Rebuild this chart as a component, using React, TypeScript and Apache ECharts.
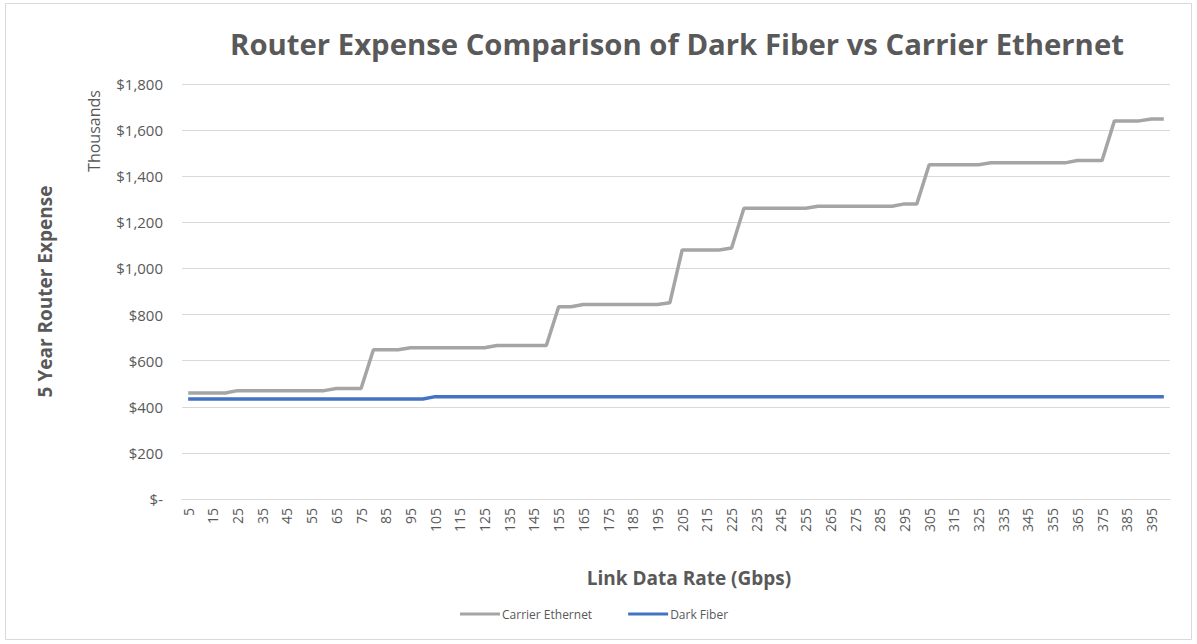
import React, { useEffect, useRef } from "react";
import * as echarts from "echarts";

const categories: string[] = [];
for (let r = 5; r <= 400; r += 5) categories.push(String(r));

const carrierEthernet = [
  460, 460, 460, 460,
  470, 470, 470, 470, 470, 470, 470, 470,
  479, 479, 479,
  647, 647, 647,
  656, 656, 656, 656, 656, 656, 656,
  666, 666, 666, 666, 666,
  834, 834,
  844, 844, 844, 844, 844, 844, 844,
  851,
  1080, 1080, 1080, 1080,
  1089,
  1261, 1261, 1261, 1261, 1261, 1261,
  1270, 1270, 1270, 1270, 1270, 1270, 1270,
  1280, 1280,
  1450, 1450, 1450, 1450, 1450,
  1458, 1458, 1458, 1458, 1458, 1458, 1458,
  1468, 1468, 1468,
  1640, 1640, 1640,
  1648, 1648,
];

const darkFiber = [
  434, 434, 434, 434, 434, 434, 434, 434, 434, 434,
  434, 434, 434, 434, 434, 434, 434, 434, 434, 434,
  444, 444, 444, 444, 444, 444, 444, 444, 444, 444,
  444, 444, 444, 444, 444, 444, 444, 444, 444, 444,
  444, 444, 444, 444, 444, 444, 444, 444, 444, 444,
  444, 444, 444, 444, 444, 444, 444, 444, 444, 444,
  444, 444, 444, 444, 444, 444, 444, 444, 444, 444,
  444, 444, 444, 444, 444, 444, 444, 444, 444, 444,
];

const seriesNames = ["Carrier Ethernet", "Dark Fiber"];
const FONT = "'Open Sans', 'Noto Sans', sans-serif";
const TEXT = "#595959";

export default function App() {
  const ref = useRef<HTMLDivElement>(null);
  useEffect(() => {
    if (!ref.current) return;
    const chart = echarts.init(ref.current, undefined, { renderer: "svg" });
    chart.setOption({
      animation: false,
      backgroundColor: "#ffffff",
      textStyle: { fontFamily: FONT },
      title: {
        text: "Router Expense Comparison of Dark Fiber vs Carrier Ethernet",
        left: 672,
        textAlign: "center",
        top: 24,
        textStyle: { fontSize: 29.3, fontWeight: "bold", color: TEXT, fontFamily: FONT },
      },
      grid: { left: 182, right: 27, top: 84, bottom: 145 },
      legend: {
        data: seriesNames.map((n) => ({ name: n, icon: "rect" })),
        bottom: 19,
        left: 455,
        itemWidth: 40,
        itemHeight: 3,
        itemGap: 36,
        textStyle: { color: TEXT, fontSize: 12, fontFamily: FONT, padding: [0, 0, 0, -3] },
      },
      xAxis: {
        type: "category",
        data: categories,
        boundaryGap: true,
        name: "Link Data Rate (Gbps)",
        nameLocation: "middle",
        nameGap: 69,
        nameTextStyle: {
          fontSize: 19,
          fontWeight: "bold",
          color: TEXT,
          fontFamily: FONT,
          padding: [0, 0, 0, 26],
        },
        axisLine: { lineStyle: { color: "#D9D9D9", width: 1 } },
        axisTick: { show: false },
        axisLabel: {
          interval: 1,
          rotate: 90,
          color: TEXT,
          fontSize: 14,
          margin: 9,
          fontFamily: FONT,
        },
      },
      yAxis: {
        type: "value",
        min: 0,
        max: 1800,
        interval: 200,
        name: "5 Year Router Expense",
        nameLocation: "middle",
        nameGap: 128,
        nameTextStyle: { fontSize: 19, fontWeight: "bold", color: TEXT, fontFamily: FONT },
        axisLine: { show: false },
        axisTick: { show: false },
        splitLine: { lineStyle: { color: "#D9D9D9", width: 1 } },
        axisLabel: {
          color: TEXT,
          fontSize: 15,
          margin: 19,
          fontFamily: FONT,
          formatter: (v: number) => (v === 0 ? "$-" : "$" + v.toLocaleString("en-US")),
        },
      },
      graphic: [
        {
          type: "rect",
          shape: { x: 5.5, y: 3.5, width: 1186, height: 636 },
          style: { fill: "none", stroke: "#D9D9D9", lineWidth: 1 },
          silent: true,
        },
        {
          type: "text",
          x: 94,
          y: 131,
          rotation: Math.PI / 2,
          style: {
            text: "Thousands",
            fill: TEXT,
            fontSize: 16,
            fontFamily: FONT,
            align: "center",
            verticalAlign: "middle",
          },
        },
      ],
      series: [
        {
          name: seriesNames[0],
          type: "line",
          data: carrierEthernet,
          symbol: "none",
          lineStyle: { color: "#A5A5A5", width: 3.5 },
          itemStyle: { color: "#A5A5A5" },
        },
        {
          name: seriesNames[1],
          type: "line",
          data: darkFiber,
          symbol: "none",
          lineStyle: { color: "#4472C4", width: 3.5 },
          itemStyle: { color: "#4472C4" },
        },
      ],
    });
    return () => chart.dispose();
  }, []);
  return (
    <div
      ref={ref}
      style={{ position: "absolute", left: 0, top: 0, width: 1197, height: 644 }}
    />
  );
}
